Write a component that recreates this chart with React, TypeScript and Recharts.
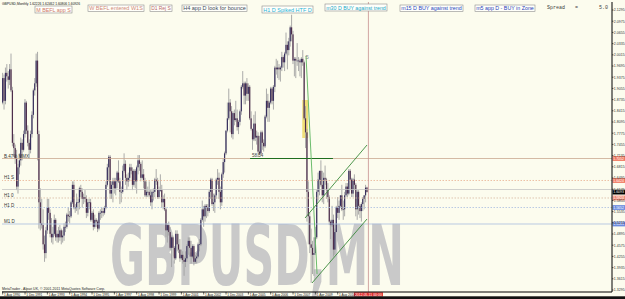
import React from 'react';
import { ComposedChart, Bar, XAxis, YAxis, ReferenceLine, ReferenceArea } from 'recharts';

// Monthly GBPUSD candles, Aug 1990 .. May 2012 (prices x1000)
const opens = [
  1865,1935,1870,1950,1940,
  1930,1960,1900,1750,1735,1705,1625,1680,1700,1750,1730,1775,
  1865,1785,1750,1730,1775,1830,1900,1920,1985,1775,1580,1520,
  1515,1460,1435,1500,1565,1550,1490,1480,1490,1530,1480,1490,
  1480,1500,1480,1485,1510,1510,1545,1540,1540,1580,1630,1565,
  1565,1580,1580,1620,1610,1590,1595,1590,1550,1580,1580,1530,
  1550,1510,1530,1525,1505,1550,1550,1555,1550,1565,1630,1680,
  1710,1605,1630,1640,1620,1640,1665,1640,1610,1610,1670,1690,
  1650,1640,1650,1680,1670,1630,1670,1640,1680,1700,1690,1650,
  1660,1640,1600,1610,1610,1600,1580,1610,1610,1645,1640,1595,
  1615,1615,1580,1590,1560,1500,1515,1495,1450,1480,1450,1420,
  1490,1460,1445,1420,1430,1415,1410,1420,1455,1470,1450,1425,
  1455,1410,1420,1425,1460,1460,1530,1560,1540,1570,1565,1555,
  1610,1645,1575,1580,1600,1645,1650,1610,1580,1660,1695,1720,
  1785,1820,1865,1840,1775,1835,1815,1820,1795,1810,1840,1910,
  1920,1885,1920,1890,1910,1820,1790,1760,1805,1765,1770,1725,
  1720,1780,1750,1740,1825,1870,1850,1865,1905,1870,1910,1965,
  1960,1965,1960,1965,1995,1980,2005,2030,2015,2040,2080,2060,
  1985,1990,1985,1985,1985,1980,1990,1980,1820,1780,1610,1540,
  1460,1450,1430,1435,1480,1610,1645,1670,1630,1600,1650,1645,
  1615,1595,1525,1515,1530,1445,1495,1565,1550,1570,1600,1560,
  1560,1600,1625,1605,1670,1645,1605,1645,1630,1560,1610,1570,
  1555,1575,1590,1600,1622.3,
];
const highs = [
  1950,1945,1965,1975,1955,
  1975,2005,1910,1775,1745,1730,1690,1720,1765,1760,1785,1875,
  1870,1800,1760,1785,1840,1905,1935,2005,2010,1785,1620,1590,
  1560,1485,1510,1590,1590,1560,1535,1510,1545,1535,1500,1510,
  1515,1505,1500,1520,1525,1550,1565,1555,1585,1640,1640,1575,
  1605,1590,1625,1630,1620,1605,1615,1600,1590,1590,1590,1555,
  1560,1545,1535,1530,1555,1560,1565,1565,1570,1640,1690,1715,
  1715,1640,1650,1650,1650,1670,1700,1650,1625,1685,1720,1700,
  1660,1665,1690,1690,1680,1675,1675,1685,1715,1715,1695,1700,
  1675,1650,1640,1625,1640,1615,1615,1620,1650,1675,1650,1625,
  1660,1630,1600,1605,1565,1520,1525,1510,1485,1485,1455,1500,
  1500,1490,1475,1445,1440,1425,1440,1460,1480,1480,1470,1460,
  1460,1430,1435,1465,1475,1535,1585,1570,1575,1575,1575,1615,
  1650,1650,1605,1605,1650,1675,1665,1625,1665,1705,1725,1785,
  1865,1905,1875,1855,1840,1845,1870,1845,1815,1845,1915,1955,
  1925,1925,1935,1920,1915,1840,1790,1830,1840,1785,1780,1770,
  1785,1785,1760,1830,1905,1890,1870,1910,1910,1915,1970,1990,
  1985,1975,1970,2010,2000,2010,2065,2040,2050,2085,2116,2070,
  1995,1995,2035,1995,1990,1995,2015,1985,1855,1790,1640,1550,
  1505,1470,1480,1510,1615,1665,1670,1700,1670,1665,1685,1650,
  1635,1600,1530,1570,1545,1505,1570,1595,1585,1600,1630,1585,
  1610,1635,1635,1675,1675,1650,1650,1660,1635,1615,1615,1575,
  1580,1595,1600,1630,1624.6,
];
const lows = [
  1860,1845,1860,1925,1905,
  1915,1895,1740,1710,1690,1615,1605,1660,1685,1700,1725,1765,
  1775,1740,1705,1720,1765,1820,1885,1910,1700,1505,1500,1505,
  1445,1410,1420,1490,1530,1480,1465,1460,1485,1470,1465,1465,
  1470,1460,1465,1470,1495,1505,1525,1520,1535,1575,1560,1550,
  1555,1545,1560,1595,1565,1575,1580,1535,1540,1560,1525,1525,
  1500,1505,1510,1495,1500,1530,1535,1540,1545,1560,1625,1640,
  1590,1590,1580,1605,1600,1620,1635,1575,1580,1605,1665,1630,
  1615,1625,1640,1660,1615,1625,1620,1605,1660,1670,1640,1645,
  1620,1595,1595,1595,1595,1570,1560,1585,1595,1630,1590,1590,
  1610,1565,1560,1555,1480,1465,1485,1445,1395,1425,1405,1415,
  1440,1435,1410,1415,1405,1370,1395,1410,1430,1425,1405,1420,
  1400,1405,1405,1420,1440,1455,1525,1510,1525,1535,1540,1550,
  1590,1570,1555,1550,1590,1630,1590,1560,1570,1650,1665,1715,
  1780,1815,1780,1765,1760,1800,1810,1785,1775,1800,1830,1905,
  1860,1860,1870,1870,1815,1785,1730,1755,1755,1745,1710,1715,
  1715,1730,1725,1735,1820,1810,1810,1860,1860,1845,1895,1945,
  1935,1930,1925,1955,1965,1955,2000,1960,2000,2025,2040,1975,
  1940,1935,1970,1955,1940,1935,1970,1815,1735,1525,1460,1435,
  1350,1375,1370,1430,1475,1585,1600,1625,1580,1575,1630,1590,
  1580,1515,1475,1510,1425,1430,1495,1535,1530,1565,1555,1530,
  1540,1595,1595,1600,1615,1595,1595,1615,1540,1530,1545,1535,
  1525,1555,1560,1580,1608.1,
];
const closes = [
  1935,1870,1950,1940,1930,
  1960,1900,1750,1735,1705,1625,1680,1700,1750,1730,1775,1865,
  1785,1750,1730,1775,1830,1900,1920,1985,1775,1580,1520,1515,
  1460,1435,1500,1565,1550,1490,1480,1490,1530,1480,1490,1480,
  1500,1480,1485,1510,1510,1545,1540,1540,1580,1630,1565,1565,
  1580,1580,1620,1610,1590,1595,1590,1550,1580,1580,1530,1550,
  1510,1530,1525,1505,1550,1550,1555,1550,1565,1630,1680,1710,
  1605,1630,1640,1620,1640,1665,1640,1610,1610,1670,1690,1650,
  1640,1650,1680,1670,1630,1670,1640,1680,1700,1690,1650,1660,
  1640,1600,1610,1610,1600,1580,1610,1610,1645,1640,1595,1615,
  1615,1580,1590,1560,1500,1515,1495,1450,1480,1450,1420,1490,
  1460,1445,1420,1430,1415,1410,1420,1455,1470,1450,1425,1455,
  1410,1420,1425,1460,1460,1530,1560,1540,1570,1565,1555,1610,
  1645,1575,1580,1600,1645,1650,1610,1580,1660,1695,1720,1785,
  1820,1865,1840,1775,1835,1815,1820,1795,1810,1840,1910,1920,
  1885,1920,1890,1910,1820,1790,1760,1805,1765,1770,1725,1720,
  1780,1750,1740,1825,1870,1850,1865,1905,1870,1910,1965,1960,
  1965,1960,1965,1995,1980,2005,2030,2015,2040,2080,2060,1985,
  1990,1985,1985,1985,1980,1990,1980,1820,1780,1610,1540,1460,
  1450,1430,1435,1480,1610,1645,1670,1630,1600,1650,1645,1615,
  1595,1525,1515,1530,1445,1495,1565,1550,1570,1600,1560,1560,
  1600,1625,1605,1670,1645,1605,1645,1630,1560,1610,1570,1555,
  1575,1590,1600,1622,1609.3,
];

// Time axis: month index of each label and its text
const timeTickIdx = [0, 16, 32, 48, 64, 80, 96, 112, 128, 144, 160, 176, 192, 208, 224, 240];
const timeTickLabels = [
  '1 Aug 1990', '1 Dec 1991', '1 Apr 1993', '1 Aug 1994', '1 Dec 1995', '1 Apr 1997',
  '1 Aug 1998', '1 Dec 1999', '1 Apr 2001', '1 Aug 2002', '1 Dec 2003', '1 Apr 2005',
  '1 Aug 2006', '1 Dec 2007', '1 Apr 2009', '1 Aug 2010',
];
const priceTicks = [
  2.1295, 2.0975, 2.0655, 2.0335, 2.0015, 1.9695, 1.9375, 1.9055, 1.8735, 1.8415,
  1.8095, 1.7775, 1.7455, 1.7135, 1.6815, 1.6495, 1.6175, 1.5855, 1.5535, 1.5215,
  1.4895, 1.4575, 1.4255, 1.3935, 1.3615, 1.3295,
];

// Horizontal levels: price, left caption
const levelPrices = [1.7052, 1.6424, 1.6166, 1.5924, 1.5652, 1.5181];
const levelCaptions = ['B.47% MMX', 'H1 S', '', 'H1 0', 'H1 D', 'M1 D'];
const lastPrice = 1.6093;

// Trend lines (month index, price)
const steepLine = [{ i: 217.3, p: 1.9981 }, { i: 225.2, p: 1.3752 }];
const swingLine = [{ i: 177.2, p: 1.7052 }, { i: 236.6, p: 1.7052 }];
const channelTop = [{ i: 216.6, p: 1.5352 }, { i: 261.0, p: 1.7438 }];
const channelBottom = [{ i: 221.6, p: 1.3495 }, { i: 261.0, p: 1.5324 }];
const zoneBox = { i1: 214.6, i2: 218.8, p1: 1.8724, p2: 1.7638 };
const nowIdx = 262;

const notes = [
  { x: 35, y: 6, w: 37, h: 7, text: 'M BEFL app S', color: '#d07a68' },
  { x: 88, y: 5, w: 56, h: 6.5, text: 'W BEFL entered W1S', color: '#d08a78' },
  { x: 150, y: 5, w: 22, h: 6.5, text: 'D1 Rej S', color: '#b86a6a' },
  { x: 182, y: 5, w: 65, h: 6.5, text: 'H4 app D look for bounce', color: '#3c4a5a' },
  { x: 262, y: 6, w: 51, h: 7, text: 'H1 D Spiked HTF D', color: '#28b4d8' },
  { x: 325, y: 4, w: 62, h: 7, text: 'm30 D BUY against trend', color: '#20a8c8' },
  { x: 400, y: 5, w: 63, h: 6.5, text: 'm15 D BUY against trend', color: '#2848c0' },
  { x: 475, y: 5, w: 60, h: 6.5, text: 'm5 app D - BUY in Zone', color: '#2840b8' },
];

const data = opens.map((o, i) => ({
  i,
  o: o / 1000,
  h: highs[i] / 1000,
  l: lows[i] / 1000,
  c: closes[i] / 1000,
  range: [lows[i] / 1000, highs[i] / 1000],
}));

const BG = '#fcfcee';
const FONT = '"Liberation Sans", Arial, sans-serif';

const Candle = (props: any) => {
  const { x, y, width, height, payload } = props;
  if (!payload || y == null || height == null) return null;
  const top = Math.min(y, y + height);
  const hh = Math.abs(height);
  const span = payload.h - payload.l || 1e-9;
  const py = (p: number) => top + ((payload.h - p) / span) * hh;
  const cx = x + (width || 0) / 2;
  const yo = py(payload.o);
  const yc = py(payload.c);
  const bt = Math.min(yo, yc);
  const bh = Math.max(Math.abs(yc - yo), 0.7);
  const bull = payload.c >= payload.o;
  return (
    <g>
      <line x1={cx} x2={cx} y1={top} y2={top + hh} stroke="#a2a2a2" strokeWidth={0.9} />
      <rect x={cx - 0.6} y={bt} width={1.2} height={bh} fill={bull ? '#38305e' : '#4e2e4c'} />
    </g>
  );
};

const XTick = (props: any) => {
  const { x, payload } = props;
  const k = timeTickIdx.indexOf(payload.value);
  return (
    <g>
      <line x1={x} x2={x} y1={292} y2={294.5} stroke="#000" strokeWidth={0.6} />
      <text x={x + 1.3} y={295.6} fontSize={3.3} fontFamily={FONT} fill="#222" textLength={16} lengthAdjust="spacingAndGlyphs">
        {k >= 0 ? timeTickLabels[k] : ''}
      </text>
    </g>
  );
};

const YTick = (props: any) => {
  const { y, payload } = props;
  return (
    <g>
      <line x1={612} x2={613.5} y1={y} y2={y} stroke="#000" strokeWidth={0.6} />
      <text x={613.8} y={y + 1.4} fontSize={4} fontFamily={FONT} fill="#333" textLength={10.8} lengthAdjust="spacingAndGlyphs">
        {payload.value.toFixed(4)}
      </text>
    </g>
  );
};

const LevelLabel = (props: any) => {
  const { viewBox, caption, box, value, textColor } = props;
  if (!viewBox) return null;
  const y = viewBox.y;
  return (
    <g>
      {caption ? (
        <text x={4} y={y - 1} fontSize={4.5} fontFamily={FONT} fill="#333">{caption}</text>
      ) : null}
      {box ? (
        <g>
          <rect x={612.5} y={y - 2.4} width={12.5} height={4.8} fill={box} />
          <text x={613.2} y={y + 1.4} fontSize={4} fontFamily={FONT} fill={textColor || '#fff'} textLength={10.8} lengthAdjust="spacingAndGlyphs">
            {value.toFixed(4)}
          </text>
        </g>
      ) : null}
    </g>
  );
};

const TimeLabel = (props: any) => {
  const { viewBox } = props;
  if (!viewBox) return null;
  const x = viewBox.x;
  return (
    <g>
      <rect x={x - 14.5} y={292.3} width={29} height={4.2} fill="#e02828" />
      <text x={x - 13.5} y={295.6} fontSize={3.3} fontFamily={FONT} fill="#fff" textLength={27} lengthAdjust="spacingAndGlyphs">
        2012.05.11 00:00
      </text>
    </g>
  );
};

const SwingLabel = (props: any) => {
  const { viewBox } = props;
  if (!viewBox) return null;
  return (
    <text x={viewBox.x + 2} y={viewBox.y - 2} fontSize={4.5} fontFamily={FONT} fill="#444">58.54</text>
  );
};

const levelStyles = [
  { stroke: '#c9a890', dash: undefined, box: '#f07860' },
  { stroke: '#e8b090', dash: '1.5 1.5', box: '#f07860' },
  { stroke: '#c4c4c4', dash: undefined, box: undefined },
  { stroke: '#d8b8a0', dash: '1.5 1.5', box: '#f08c78' },
  { stroke: '#a8bce0', dash: '1.5 1.5', box: '#6c8ce0' },
  { stroke: '#a8bce0', dash: undefined, box: '#6c8ce0' },
];

export default function App() {
  return (
    <div style={{ position: 'fixed', left: 0, top: 0, width: 625, height: 299, background: BG, overflow: 'hidden' }}>
      <svg width={625} height={299} style={{ position: 'absolute', left: 0, top: 0 }}>
        <text
          x={110}
          y={285}
          fontSize={84}
          fontWeight="bold"
          fontFamily='"Liberation Sans Narrow", "DejaVu Sans Condensed", "Liberation Sans", sans-serif'
          fill="#c9c9c9"
          textLength={294}
          lengthAdjust="spacingAndGlyphs"
        >
          GBPUSD,MN
        </text>
      </svg>
      <div style={{ position: 'absolute', left: 0, top: 0 }}>
        <ComposedChart width={625} height={299} data={data} margin={{ top: 2, right: 0, bottom: 0, left: 2 }}>
          <XAxis
            dataKey="i"
            type="number"
            domain={[-0.5, 436.5]}
            allowDataOverflow
            ticks={timeTickIdx}
            interval={0}
            height={7}
            tickSize={0}
            tickMargin={0}
            tickLine={false}
            axisLine={{ stroke: '#000', strokeWidth: 1 }}
            tick={<XTick />}
          />
          <YAxis
            orientation="right"
            type="number"
            domain={[1.3238, 2.1524]}
            allowDataOverflow
            ticks={priceTicks}
            interval={0}
            width={13}
            tickSize={0}
            tickMargin={0}
            tickLine={false}
            axisLine={{ stroke: '#000', strokeWidth: 1 }}
            tick={<YTick />}
          />
          <ReferenceArea
            x1={zoneBox.i1}
            x2={zoneBox.i2}
            y1={zoneBox.p1}
            y2={zoneBox.p2}
            fill="#eedc6a"
            fillOpacity={0.9}
            stroke="none"
          />
          {levelPrices.map((p, k) => (
            <ReferenceLine
              key={'lv' + k}
              y={p}
              stroke={levelStyles[k].stroke}
              strokeWidth={0.8}
              strokeDasharray={levelStyles[k].dash}
              label={<LevelLabel caption={levelCaptions[k]} box={levelStyles[k].box} value={p} />}
            />
          ))}
          <ReferenceLine
            y={lastPrice}
            stroke="none"
            strokeOpacity={0}
            label={<LevelLabel caption="" box="#000" value={lastPrice} />}
          />
          <Bar dataKey="range" isAnimationActive={false} shape={(p: any) => <Candle {...p} />} />
          <ReferenceLine x={nowIdx} stroke="#c89090" strokeWidth={0.8} label={<TimeLabel />} />
          <ReferenceLine
            segment={[{ x: swingLine[0].i, y: swingLine[0].p }, { x: swingLine[1].i, y: swingLine[1].p }]}
            stroke="#1f6e1f"
            strokeWidth={1}
            label={<SwingLabel />}
          />
          <ReferenceLine
            segment={[{ x: steepLine[0].i, y: steepLine[0].p }, { x: steepLine[1].i, y: steepLine[1].p }]}
            stroke="#6cbc6c"
            strokeWidth={1}
          />
          <ReferenceLine
            segment={[{ x: channelTop[0].i, y: channelTop[0].p }, { x: channelTop[1].i, y: channelTop[1].p }]}
            stroke="#3a8a3a"
            strokeWidth={0.9}
          />
          <ReferenceLine
            segment={[{ x: channelBottom[0].i, y: channelBottom[0].p }, { x: channelBottom[1].i, y: channelBottom[1].p }]}
            stroke="#3a8a3a"
            strokeWidth={0.9}
          />
        </ComposedChart>
      </div>
      <svg width={625} height={299} style={{ position: 'absolute', left: 0, top: 0, pointerEvents: 'none' }}>
        <text x={2} y={5} fontSize={4} fontFamily={FONT} fill="#111" textLength={78} lengthAdjust="spacingAndGlyphs">
          GBPUSD,Monthly 1.62226 1.62462 1.60806 1.60926
        </text>
        {notes.map((n, k) => (
          <g key={'n' + k}>
            <rect x={n.x} y={n.y} width={n.w} height={n.h} fill="#fffffa" stroke="#8c8c8c" strokeWidth={0.6} />
            <text
              x={n.x + 1.2}
              y={n.y + n.h - 1.5}
              fontSize={5.2}
              fontFamily={FONT}
              fill={n.color}
              textLength={n.w - 2.4}
              lengthAdjust="spacingAndGlyphs"
            >
              {n.text}
            </text>
          </g>
        ))}
        <text x={547} y={9} fontSize={5} fontFamily='"Liberation Mono", "DejaVu Sans Mono", monospace' fill="#404040">Spread</text>
        <text x={575} y={9} fontSize={5} fontFamily='"Liberation Mono", "DejaVu Sans Mono", monospace' fill="#404040">=</text>
        <text x={599} y={9} fontSize={5} fontFamily='"Liberation Mono", "DejaVu Sans Mono", monospace' fill="#404040">5.0</text>
        <text x={305.5} y={59} fontSize={6} fontFamily={FONT} fill="#8a8a8a">5</text>
        <text x={2} y={290.3} fontSize={3.6} fontFamily={FONT} fill="#222" textLength={103} lengthAdjust="spacingAndGlyphs" textDecoration="underline">
          MetaTrader - Alpari UK, © 2001-2011 MetaQuotes Software Corp.
        </text>
        <rect x={0} y={296.3} width={625} height={2.7} fill="#111" />
      </svg>
    </div>
  );
}
